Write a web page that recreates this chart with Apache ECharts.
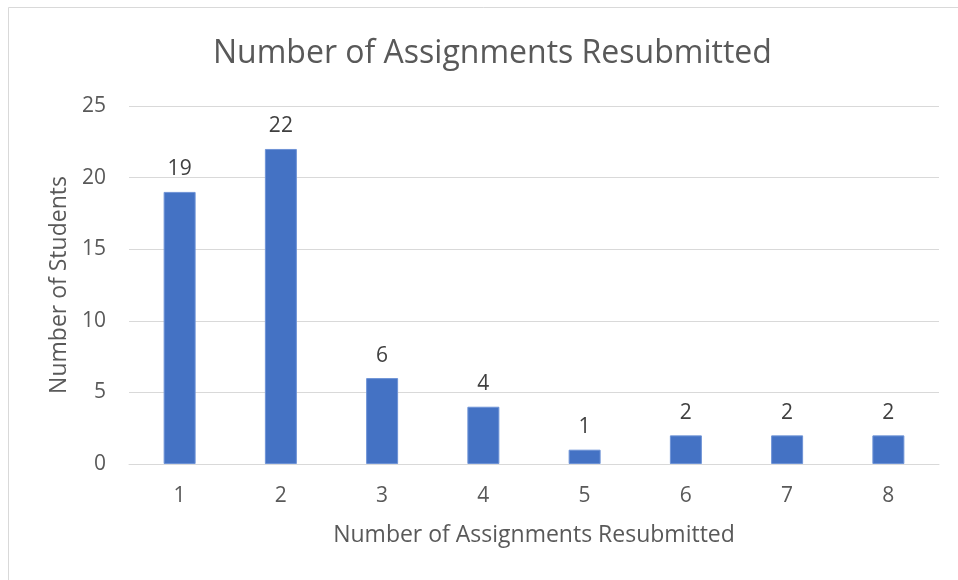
<!DOCTYPE html>
<html><head><meta charset="utf-8">
<script src="https://cdn.jsdelivr.net/npm/echarts@6/dist/echarts.min.js"></script>
<style>html,body{margin:0;padding:0;background:#fff}#c{width:958px;height:580px}</style>
</head><body><div id="c"></div>
<script>
const categories = ['1','2','3','4','5','6','7','8'];
const students = [19, 22, 6, 4, 1, 2, 2, 2];
const yTicks = [0, 5, 10, 15, 20, 25];
const titleText = 'Number of Assignments Resubmitted';
const xName = 'Number of Assignments Resubmitted';
const yName = 'Number of Students';

const FONT = 'Open Sans';
const chart = echarts.init(document.getElementById('c'));
chart.setOption({
  animation: false,
  backgroundColor: '#fff',
  graphic: [{
    type: 'rect', shape: {x: 8.5, y: 7.5, width: 1000, height: 1000},
    style: {fill: 'none', stroke: '#d9d9d9', lineWidth: 1}, silent: true
  }],
  title: {
    text: titleText, left: 208, top: 33,
    textStyle: {fontFamily: FONT, fontSize: 32, fontWeight: 'normal', color: '#595959'}
  },
  grid: {left: 129, right: 19, top: 106, bottom: 116, containLabel: false},
  xAxis: {
    type: 'category', data: categories,
    name: xName, nameLocation: 'middle', nameGap: 60,
    nameTextStyle: {fontFamily: FONT, fontSize: 23, color: '#595959'},
    axisLine: {lineStyle: {color: '#d9d9d9', width: 1}},
    axisTick: {show: false},
    axisLabel: {fontFamily: FONT, fontSize: 21, color: '#595959', margin: 22}
  },
  yAxis: {
    type: 'value', min: 0, max: yTicks[yTicks.length-1], interval: 5,
    name: yName, nameLocation: 'middle', nameGap: 52,
    nameTextStyle: {fontFamily: FONT, fontSize: 23, color: '#595959'},
    axisLine: {show: false}, axisTick: {show: false},
    splitLine: {lineStyle: {color: '#d9d9d9', width: 1}},
    axisLabel: {fontFamily: FONT, fontSize: 21, color: '#595959', margin: 23, align: 'right'}
  },
  series: [{
    type: 'bar', data: students, barWidth: '31.6%',
    itemStyle: {color: '#4472c4', borderColor: '#6e93d6', borderWidth: 1},
    label: {show: true, position: 'top', distance: 12, fontFamily: FONT, fontSize: 21, color: '#404040'}
  }]
});
</script></body></html>
